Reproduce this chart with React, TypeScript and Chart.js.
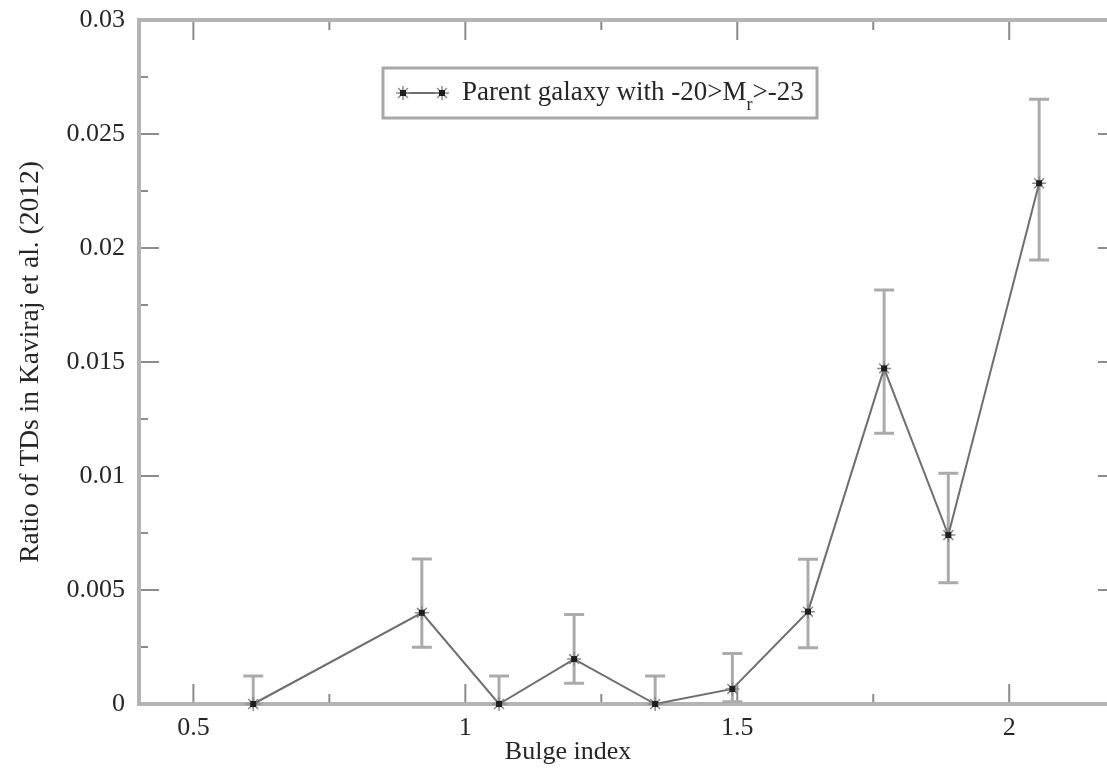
import React, { useEffect, useRef } from "react";
import { Chart, registerables } from "chart.js";
Chart.register(...registerables);

const bulgeIndex = [0.61, 0.92, 1.062, 1.2, 1.349, 1.491, 1.63, 1.77, 1.888, 2.055];
const tdRatio = [0, 0.004, 0, 0.00197, 0, 0.00066, 0.00405, 0.01472, 0.00741, 0.02284];
const errUpper = [0.00123, 0.00636, 0.00123, 0.00393, 0.00123, 0.00222, 0.00635, 0.01816, 0.01012, 0.02652];
const errLower = [0, 0.00249, 0, 0.00091, 0, 0.0001, 0.00247, 0.01187, 0.00532, 0.01947];

const xTickValues = [0.5, 1, 1.5, 2];
const xTickLabels = ["0.5", "1", "1.5", "2"];
const xMinorTicks = [0.75, 1.25, 1.75];
const yTickValues = [0, 0.005, 0.01, 0.015, 0.02, 0.025, 0.03];
const yTickLabels = ["0", "0.005", "0.01", "0.015", "0.02", "0.025", "0.03"];
const yMinorTicks = [0.0025, 0.0075, 0.0125, 0.0175, 0.0225, 0.0275];

const seriesLabel = "Parent galaxy with -20>M";
const seriesSub = "r";
const seriesTail = ">-23";
const xTitle = "Bulge index";
const yTitle = "Ratio of TDs in Kaviraj et al. (2012)";

const FONT = "'Liberation Serif', 'Times New Roman', serif";
const TEXT = "#262626";

function drawStar(ctx: CanvasRenderingContext2D, x: number, y: number, r: number) {
  ctx.save();
  ctx.strokeStyle = "#8a8a8a";
  ctx.lineWidth = 1.5;
  ctx.beginPath();
  for (let i = 0; i < 4; i++) {
    const a = (i * Math.PI) / 4;
    ctx.moveTo(x - r * Math.cos(a), y - r * Math.sin(a));
    ctx.lineTo(x + r * Math.cos(a), y + r * Math.sin(a));
  }
  ctx.stroke();
  ctx.fillStyle = "#1e1e1e";
  ctx.fillRect(x - 3, y - 3, 6, 6);
  ctx.restore();
}

const decorPlugin = {
  id: "decor",
  beforeDatasetsDraw(chart: any) {
    const { ctx, chartArea } = chart;
    const xs = chart.scales.x;
    const ys = chart.scales.y;
    const { left, right, top, bottom } = chartArea;
    ctx.save();
    // ticks (inward)
    ctx.strokeStyle = "#8c8c8c";
    ctx.lineWidth = 2;
    ctx.beginPath();
    const xt = (vals: number[], len: number) => {
      vals.forEach((v) => {
        const px = xs.getPixelForValue(v);
        ctx.moveTo(px, bottom);
        ctx.lineTo(px, bottom - len);
        ctx.moveTo(px, top);
        ctx.lineTo(px, top + len);
      });
    };
    const yt = (vals: number[], len: number) => {
      vals.forEach((v) => {
        const py = ys.getPixelForValue(v);
        ctx.moveTo(left, py);
        ctx.lineTo(left + len, py);
        ctx.moveTo(right, py);
        ctx.lineTo(right - len, py);
      });
    };
    xt(xTickValues, 20);
    xt(xMinorTicks, 10);
    yt(yTickValues, 20);
    yt(yMinorTicks, 9);
    ctx.stroke();
    // frame
    ctx.strokeStyle = "#b4b4b4";
    ctx.lineWidth = 4;
    ctx.strokeRect(left, top, right - left, bottom - top);
    // error bars
    ctx.strokeStyle = "#ababab";
    ctx.lineWidth = 3;
    ctx.beginPath();
    bulgeIndex.forEach((bx, i) => {
      const px = xs.getPixelForValue(bx);
      const pu = ys.getPixelForValue(errUpper[i]);
      const pl = ys.getPixelForValue(errLower[i]);
      ctx.moveTo(px, pu);
      ctx.lineTo(px, pl);
      ctx.moveTo(px - 10, pu);
      ctx.lineTo(px + 10, pu);
      ctx.moveTo(px - 10, pl);
      ctx.lineTo(px + 10, pl);
    });
    ctx.stroke();
    ctx.restore();
  },
  afterDatasetsDraw(chart: any) {
    const { ctx } = chart;
    const xs = chart.scales.x;
    const ys = chart.scales.y;
    ctx.save();
    ctx.fillStyle = "#1e1e1e";
    bulgeIndex.forEach((bx, i) => {
      const px = xs.getPixelForValue(bx);
      const py = ys.getPixelForValue(tdRatio[i]);
      ctx.fillRect(px - 3, py - 3, 6, 6);
    });
    // x axis title
    ctx.fillStyle = TEXT;
    ctx.font = `26px ${FONT}`;
    ctx.textAlign = "center";
    ctx.textBaseline = "middle";
    ctx.fillText(xTitle, 568, 752);
    // legend
    const bx0 = 383, by0 = 68, bw = 434, bh = 50;
    ctx.fillStyle = "#ffffff";
    ctx.fillRect(bx0, by0, bw, bh);
    ctx.strokeStyle = "#a8a8a8";
    ctx.lineWidth = 3;
    ctx.strokeRect(bx0, by0, bw, bh);
    const ly = 93;
    ctx.strokeStyle = "#6e6e6e";
    ctx.lineWidth = 2;
    ctx.beginPath();
    ctx.moveTo(403, ly);
    ctx.lineTo(442, ly);
    ctx.stroke();
    drawStar(ctx, 403, ly, 7);
    drawStar(ctx, 442, ly, 7);
    ctx.fillStyle = TEXT;
    ctx.textBaseline = "middle";
    ctx.textAlign = "left";
    ctx.font = `27px ${FONT}`;
    let tx = 462;
    ctx.fillText(seriesLabel, tx, ly);
    tx += ctx.measureText(seriesLabel).width;
    ctx.font = `18px ${FONT}`;
    ctx.fillText(seriesSub, tx, ly + 12);
    tx += ctx.measureText(seriesSub).width;
    ctx.font = `27px ${FONT}`;
    ctx.fillText(seriesTail, tx, ly);
    ctx.restore();
  },
};

export default function App() {
  const ref = useRef<HTMLCanvasElement | null>(null);
  useEffect(() => {
    if (!ref.current) return;
    const points = bulgeIndex.map((x, i) => ({ x, y: tdRatio[i] }));
    const chart = new Chart(ref.current, {
      type: "scatter",
      data: {
        datasets: [
          {
            label: seriesLabel + seriesSub + seriesTail,
            data: points,
            showLine: true,
            borderColor: "#6e6e6e",
            borderWidth: 2,
            pointStyle: "star",
            pointRadius: 7,
            pointBorderColor: "#8a8a8a",
            pointBorderWidth: 1.5,
            pointBackgroundColor: "#8a8a8a",
            clip: false as any,
          },
        ],
      },
      options: {
        animation: false,
        responsive: false,
        devicePixelRatio: 1,
        layout: { padding: { top: 20, right: 12, left: 0, bottom: 0 } },
        plugins: { legend: { display: false }, tooltip: { enabled: false } },
        scales: {
          x: {
            type: "linear",
            min: 0.4,
            max: 2.2,
            grid: { display: false, drawTicks: false },
            border: { display: false },
            afterBuildTicks: (scale: any) => {
              scale.ticks = xTickValues.map((v) => ({ value: v }));
            },
            afterFit: (scale: any) => {
              scale.height = 69;
              scale.paddingLeft = 0;
              scale.paddingRight = 0;
            },
            ticks: {
              padding: 9,
              color: TEXT,
              font: { family: FONT, size: 26 },
              callback: (v: any) => {
                const i = xTickValues.indexOf(Number(v));
                return i >= 0 ? xTickLabels[i] : "";
              },
            },
            title: { display: false, text: xTitle },
          },
          y: {
            type: "linear",
            min: 0,
            max: 0.03,
            grid: { display: false, drawTicks: false },
            border: { display: false },
            afterBuildTicks: (scale: any) => {
              scale.ticks = yTickValues.map((v) => ({ value: v }));
            },
            afterFit: (scale: any) => {
              scale.width = 139;
              scale.paddingTop = 0;
              scale.paddingBottom = 0;
            },
            ticks: {
              padding: 14,
              color: TEXT,
              font: { family: FONT, size: 26 },
              callback: (v: any) => {
                const i = yTickValues.findIndex((t) => Math.abs(t - Number(v)) < 1e-9);
                return i >= 0 ? yTickLabels[i] : "";
              },
            },
            title: {
              display: true,
              text: yTitle,
              color: TEXT,
              font: { family: FONT, size: 27.5 },
              padding: { top: 14, bottom: 0 },
            },
          },
        },
      },
      plugins: [decorPlugin],
    });
    return () => chart.destroy();
  }, []);
  return (
    <div
      style={{
        position: "fixed",
        left: 0,
        top: 0,
        width: 1107,
        height: 773,
        overflow: "hidden",
        background: "#ffffff",
      }}
    >
      <canvas ref={ref} width={1130} height={773} style={{ display: "block" }} />
    </div>
  );
}
